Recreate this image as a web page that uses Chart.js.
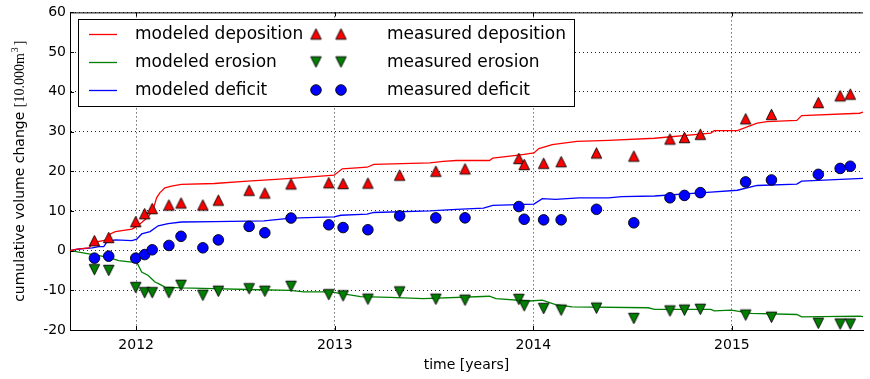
<!DOCTYPE html>
<html><head><meta charset="utf-8">
<script src="https://cdn.jsdelivr.net/npm/chart.js@4.4.0/dist/chart.umd.min.js"></script>
<style>html,body{margin:0;padding:0;background:#fff;}#wrap{width:870px;height:379px;}</style>
</head><body><div id="wrap"><canvas id="c" width="870" height="379"></canvas></div>
<script>
// ---- data (decimal years / 10.000 m^3) ----
const measuredYears = [2011.790, 2011.862, 2011.998, 2012.043, 2012.081, 2012.165, 2012.226, 2012.336, 2012.414, 2012.569, 2012.648, 2012.780, 2012.970, 2013.042, 2013.167, 2013.327, 2013.509, 2013.656, 2013.927, 2013.954, 2014.052, 2014.140, 2014.318, 2014.506, 2014.688, 2014.761, 2014.841, 2015.069, 2015.199, 2015.435, 2015.545, 2015.596];
const measuredDeposition = [2.5, 3.3, 7.3, 9.3, 10.6, 11.5, 12.0, 11.5, 12.7, 15.2, 14.5, 16.8, 17.1, 16.9, 17.0, 19.0, 20.0, 20.6, 23.2, 21.7, 22.0, 22.4, 24.6, 23.8, 28.1, 28.5, 29.3, 33.2, 34.3, 37.3, 39.0, 39.4];
const measuredErosion = [-4.8, -5.0, -9.3, -10.6, -10.6, -10.6, -8.75, -11.25, -10.25, -9.6, -10.25, -9.0, -11.1, -11.4, -12.25, -10.4, -12.25, -12.5, -12.3, -13.9, -14.6, -15.0, -14.5, -17.1, -15.2, -15.0, -14.8, -16.25, -16.8, -18.3, -18.5, -18.5];
const measuredDeficit = [-1.9, -1.4, -1.9, -1.0, 0.2, 1.3, 3.6, 0.7, 2.7, 6.1, 4.5, 8.2, 6.5, 5.8, 5.25, 8.75, 8.25, 8.25, 11.1, 7.9, 7.75, 7.75, 10.4, 7.0, 13.3, 13.9, 14.6, 17.3, 17.8, 19.2, 20.7, 21.25];

const modelDepositionYears = [2011.667, 2011.695, 2011.762, 2011.787, 2011.854, 2011.870, 2011.895, 2011.979, 2012.003, 2012.028, 2012.061, 2012.086, 2012.103, 2012.120, 2012.145, 2012.178, 2012.228, 2012.394, 2012.561, 2012.644, 2012.780, 2012.997, 2013.038, 2013.163, 2013.197, 2013.479, 2013.546, 2013.613, 2013.779, 2013.796, 2013.946, 2014.003, 2014.028, 2014.095, 2014.220, 2014.378, 2014.611, 2014.894, 2014.911, 2015.027, 2015.127, 2015.177, 2015.327, 2015.351, 2015.643, 2015.667];
const modelDeposition = [0, 0.3, 0.7, 2.1, 2.7, 4.2, 4.8, 5.4, 6.1, 7.1, 8.5, 10.4, 13.3, 14.6, 15.8, 16.25, 16.7, 16.9, 17.5, 17.75, 18.2, 19.0, 20.6, 21.0, 21.7, 22.1, 22.5, 22.7, 22.7, 23.3, 24.2, 24.6, 25.7, 26.7, 27.5, 27.75, 28.3, 29.6, 30.2, 30.2, 32.1, 32.5, 32.8, 34.0, 34.6, 35.0];

const modelErosionYears = [2011.667, 2011.762, 2011.862, 2011.912, 2011.979, 2012.003, 2012.028, 2012.061, 2012.095, 2012.120, 2012.145, 2012.228, 2012.394, 2012.561, 2012.777, 2012.844, 2012.977, 2013.060, 2013.130, 2013.280, 2013.446, 2013.779, 2013.812, 2013.979, 2014.045, 2014.112, 2014.195, 2014.578, 2014.611, 2014.894, 2014.911, 2014.997, 2015.097, 2015.327, 2015.351, 2015.643, 2015.667];
const modelErosion = [0, -0.8, -1.7, -2.5, -2.9, -2.9, -5.4, -6.25, -7.9, -8.5, -9.2, -9.4, -9.6, -9.8, -10.0, -10.4, -10.4, -11.0, -11.6, -11.8, -12.1, -11.5, -12.1, -12.7, -12.5, -13.6, -14.2, -14.4, -14.8, -14.8, -15.2, -15.0, -15.8, -16.1, -16.7, -16.5, -16.7];

const modelDeficitYears = [2011.667, 2011.712, 2011.779, 2011.812, 2011.837, 2011.854, 2011.895, 2011.979, 2012.003, 2012.028, 2012.070, 2012.111, 2012.161, 2012.228, 2012.394, 2012.644, 2012.780, 2012.997, 2013.030, 2013.163, 2013.197, 2013.479, 2013.613, 2013.749, 2013.796, 2014.003, 2014.045, 2014.112, 2014.229, 2014.378, 2014.445, 2014.611, 2014.894, 2015.027, 2015.127, 2015.327, 2015.351, 2015.667];
const modelDeficit = [0, 0.4, 0.7, 1.0, 1.0, 2.25, 2.7, 2.5, 2.9, 4.2, 4.8, 6.25, 6.8, 7.2, 7.3, 7.5, 8.2, 8.5, 8.9, 9.2, 9.6, 10.0, 10.4, 10.7, 11.4, 11.7, 13.1, 12.9, 13.3, 13.3, 13.6, 13.75, 14.75, 15.2, 16.4, 16.75, 17.5, 18.2];

const xTickValues = [2012, 2013, 2014, 2015];
const yTickValues = [-20, -10, 0, 10, 20, 30, 40, 50, 60];
const xRange = [2011.667, 2015.66];

const seriesLabels = ['modeled deposition', 'modeled erosion', 'modeled deficit', 'measured deposition', 'measured erosion', 'measured deficit'];
const seriesColors = ['#ff0000', '#008000', '#0000ff'];

// ---- marker images (matplotlib-like triangles) ----
function triangleImage(color, up) {
  const s = 10.5, c = document.createElement('canvas');
  c.width = 15; c.height = 15;
  const g = c.getContext('2d'), m = 7.5, h = s / 2;
  g.beginPath();
  if (up) { g.moveTo(m, m - h); g.lineTo(m + h, m + h); g.lineTo(m - h, m + h); }
  else { g.moveTo(m, m + h); g.lineTo(m + h, m - h); g.lineTo(m - h, m - h); }
  g.closePath();
  g.fillStyle = color; g.fill();
  g.lineWidth = 0.9; g.strokeStyle = '#000'; g.lineJoin = 'miter'; g.stroke();
  return c;
}
const upTri = triangleImage(seriesColors[0], true);
const downTri = triangleImage(seriesColors[1], false);

const pts = (xs, ys) => xs.map((x, i) => ({x, y: ys[i]}));

const lineDs = (label, xs, ys, color) => ({
  type: 'line', label, data: pts(xs, ys), borderColor: color, backgroundColor: color,
  borderWidth: 1.3, pointRadius: 0, showLine: true, fill: false, tension: 0, order: 2
});

const datasets = [
  lineDs(seriesLabels[0], modelDepositionYears, modelDeposition, seriesColors[0]),
  lineDs(seriesLabels[1], modelErosionYears, modelErosion, seriesColors[1]),
  lineDs(seriesLabels[2], modelDeficitYears, modelDeficit, seriesColors[2]),
  {type: 'scatter', label: seriesLabels[3], data: pts(measuredYears, measuredDeposition), pointStyle: upTri, pointRadius: 6, order: 1},
  {type: 'scatter', label: seriesLabels[4], data: pts(measuredYears, measuredErosion), pointStyle: downTri, pointRadius: 6, order: 1},
  {type: 'scatter', label: seriesLabels[5], data: pts(measuredYears, measuredDeficit), pointStyle: 'circle', pointRadius: 5.3,
    backgroundColor: seriesColors[2], borderColor: '#000', borderWidth: 0.9, order: 1}
];

const FONT = 'DejaVu Sans';

// ---- plugins: spines, inward ticks, y title, legend ----
const decor = {
  id: 'decor',
  afterDraw(chart) {
    const {ctx, chartArea: a, scales: {x, y}} = chart;
    ctx.save();
    ctx.strokeStyle = '#000'; ctx.lineWidth = 1;
    // top spine
    ctx.beginPath(); ctx.moveTo(a.left, a.top + 0.5); ctx.lineTo(a.right, a.top + 0.5); ctx.stroke();
    // inward ticks
    ctx.beginPath();
    xTickValues.forEach(v => {
      const px = Math.round(x.getPixelForValue(v)) + 0.5;
      ctx.moveTo(px, a.bottom); ctx.lineTo(px, a.bottom - 4);
      ctx.moveTo(px, a.top); ctx.lineTo(px, a.top + 4);
    });
    yTickValues.forEach(v => {
      const py = Math.round(y.getPixelForValue(v)) + 0.5;
      ctx.moveTo(a.left, py); ctx.lineTo(a.left + 4, py);
    });
    ctx.stroke();

    // y-axis title (mixed fonts as in the reference)
    const p1 = 'cumulative volume change ', p2 = '[10.000m', p3 = '3', p4 = ']';
    const f1 = '14px "' + FONT + '"', f2 = '14px "Liberation Serif"', f3 = '10px "Liberation Serif"';
    ctx.font = f1; const w1 = ctx.measureText(p1).width;
    ctx.font = f2; const w2 = ctx.measureText(p2).width, w4 = ctx.measureText(p4).width;
    ctx.font = f3; const w3 = ctx.measureText(p3).width;
    const total = w1 + w2 + w3 + w4 + 3;
    ctx.translate(19, (a.top + a.bottom) / 2);
    ctx.rotate(-Math.PI / 2);
    ctx.fillStyle = '#000'; ctx.textBaseline = 'alphabetic'; ctx.textAlign = 'left';
    let cx = -total / 2;
    ctx.font = f1; ctx.fillText(p1, cx, 5); cx += w1;
    ctx.font = f2; ctx.fillText(p2, cx, 5); cx += w2 + 1;
    ctx.font = f3; ctx.fillText(p3, cx, -1); cx += w3 + 2;
    ctx.font = f2; ctx.fillText(p4, cx, 5);
    ctx.restore();

    // legend (two columns, three rows)
    ctx.save();
    const bx = 78.5, by = 19.5, bw = 496, bh = 87;
    ctx.fillStyle = '#fff'; ctx.fillRect(bx, by, bw, bh);
    ctx.strokeStyle = '#000'; ctx.lineWidth = 1; ctx.strokeRect(bx, by, bw, bh);
    const rows = [34, 62, 90];
    ctx.font = '17px "' + FONT + '"'; ctx.textBaseline = 'middle'; ctx.fillStyle = '#000';
    for (let i = 0; i < 3; i++) {
      const ry = rows[i];
      ctx.strokeStyle = seriesColors[i]; ctx.lineWidth = 1.3;
      ctx.beginPath(); ctx.moveTo(89, ry + 0.5); ctx.lineTo(117, ry + 0.5); ctx.stroke();
      ctx.fillStyle = '#000'; ctx.fillText(seriesLabels[i], 135, ry + 1);
      [316, 341].forEach(mx => {
        if (i === 0) ctx.drawImage(upTri, mx - 7.5, ry - 7.5);
        else if (i === 1) ctx.drawImage(downTri, mx - 7.5, ry - 7.5);
        else {
          ctx.beginPath(); ctx.arc(mx, ry, 5.3, 0, Math.PI * 2);
          ctx.fillStyle = seriesColors[2]; ctx.fill();
          ctx.lineWidth = 0.9; ctx.strokeStyle = '#000'; ctx.stroke();
        }
      });
      ctx.fillStyle = '#000'; ctx.fillText(seriesLabels[i + 3], 387, ry + 1);
    }
    ctx.restore();
  }
};

new Chart(document.getElementById('c'), {
  type: 'scatter',
  data: {datasets},
  options: {
    responsive: false, animation: false, devicePixelRatio: 1,
    layout: {padding: {top: 10, right: 0, left: 0, bottom: 0}},
    plugins: {legend: {display: false}, tooltip: {enabled: false}},
    scales: {
      x: {
        type: 'linear', min: xRange[0], max: xRange[1],
        afterBuildTicks: s => { s.ticks = xTickValues.map(v => ({value: v})); },
        afterFit: s => { s.height = 49; },
        grid: {color: 'rgba(0,0,0,0.85)', lineWidth: 1, drawTicks: false},
        border: {display: true, color: '#000', width: 1, dash: [1, 3]},
        ticks: {color: '#000', font: {family: FONT, size: 14}, padding: 7, maxRotation: 0, callback: v => String(v)},
        title: {display: true, text: 'time [years]', color: '#000', font: {family: FONT, size: 14}, padding: {top: 0, bottom: 5}}
      },
      y: {
        type: 'linear', min: -20, max: 60,
        afterBuildTicks: s => { s.ticks = yTickValues.map(v => ({value: v})); },
        afterFit: s => { s.width = 70; },
        grid: {color: 'rgba(0,0,0,0.85)', lineWidth: 1, drawTicks: false},
        border: {display: true, color: '#000', width: 1, dash: [1, 3]},
        ticks: {color: '#000', font: {family: FONT, size: 14}, padding: 4, callback: v => String(v)}
      }
    }
  },
  plugins: [decor]
});
</script></body></html>
